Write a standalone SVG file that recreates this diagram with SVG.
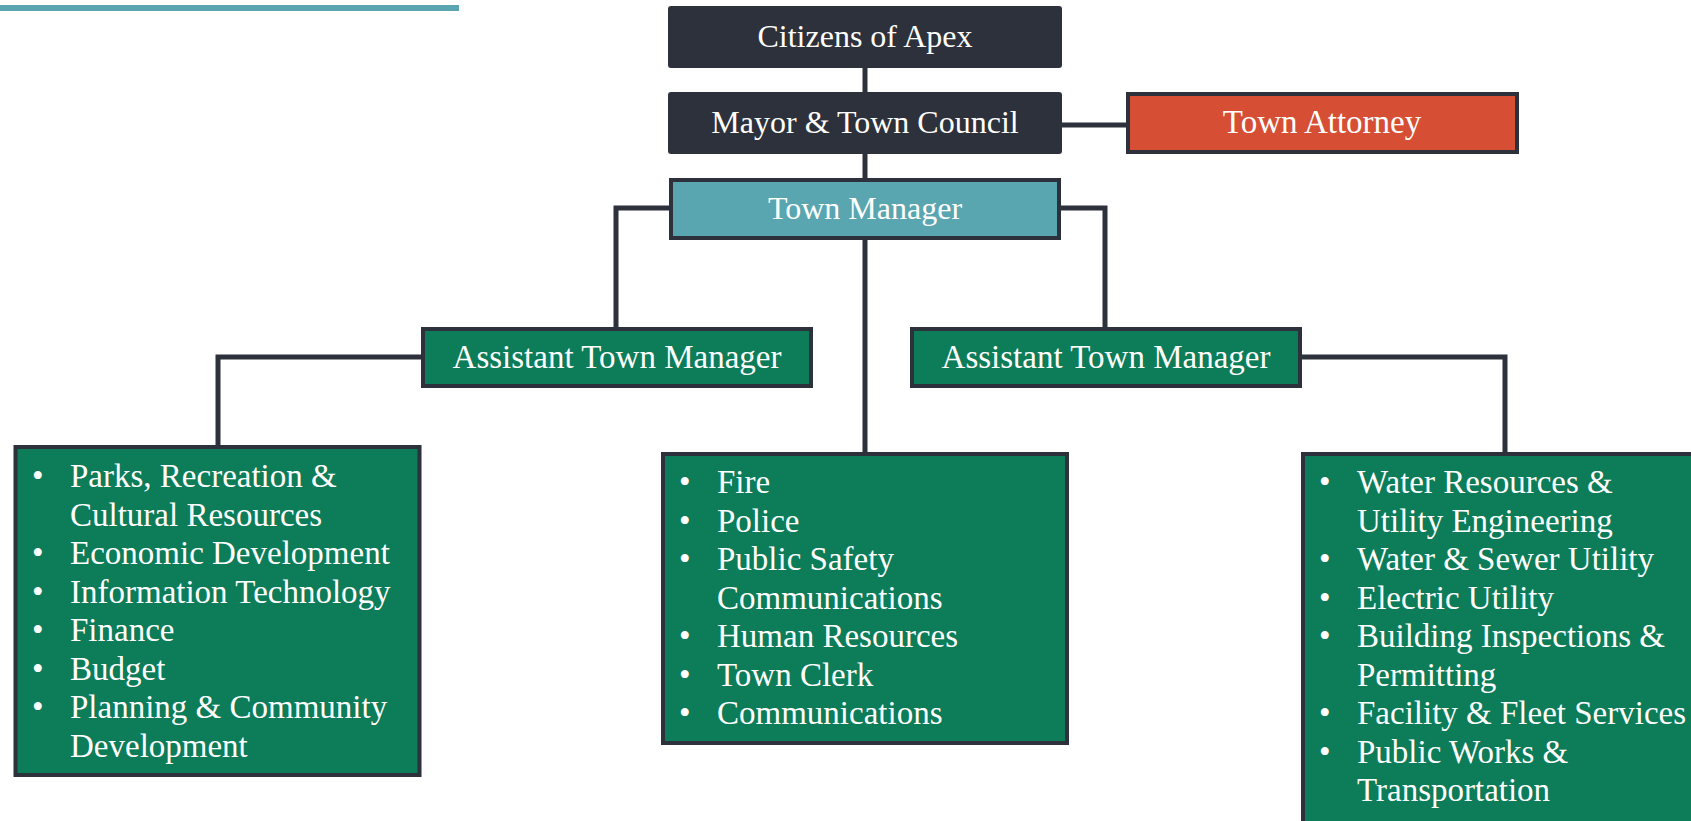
<svg xmlns="http://www.w3.org/2000/svg" width="1691" height="821" viewBox="0 0 1691 821">
<style>
.dark{fill:#2d313b;stroke:#2d313b;stroke-width:4}
.green{fill:#0c7c59;stroke:#2d313b;stroke-width:4}
.teal{fill:#5aa6b0;stroke:#2d313b;stroke-width:4}
.red{fill:#d64e33;stroke:#2d313b;stroke-width:4}
text{font-family:"Liberation Serif","Times New Roman",serif;font-size:32px;fill:#ffffff}
.c{text-anchor:middle}
.l text{font-size:33px}
.conn{fill:none;stroke:#2d313b;stroke-width:5}
</style>
<rect x="0" y="5" width="459" height="6" fill="#5aa6b0"/>
<g id="connectors">
<path class="conn" d="M865 68V92"/>
<path class="conn" d="M865 154V178"/>
<path class="conn" d="M1062 125H1126"/>
<path class="conn" d="M865 240V452"/>
<path class="conn" d="M669 208H616V327"/>
<path class="conn" d="M1061 208H1105V327"/>
<path class="conn" d="M421 357H218V445"/>
<path class="conn" d="M1302 357H1505V452"/>
</g>
<g id="citizens">
<rect class="dark" x="670" y="8" width="390" height="58" rx="1"/>
<text class="c" x="865" y="47">Citizens of Apex</text>
</g>
<g id="mayor">
<rect class="dark" x="670" y="94" width="390" height="58" rx="1"/>
<text class="c" x="865" y="133">Mayor &amp; Town Council</text>
</g>
<g id="attorney">
<rect class="red" x="1128" y="94" width="389" height="58"/>
<text class="c" x="1322" y="133" style="font-size:33px">Town Attorney</text>
</g>
<g id="town-manager">
<rect class="teal" x="671" y="180" width="388" height="58"/>
<text class="c" x="865" y="219">Town Manager</text>
</g>
<g id="atm-left">
<rect class="green" x="423" y="329" width="388" height="57"/>
<text class="c" x="617" y="368" style="font-size:33px">Assistant Town Manager</text>
</g>
<g id="atm-right">
<rect class="green" x="912" y="329" width="388" height="57"/>
<text class="c" x="1106" y="368" style="font-size:33px">Assistant Town Manager</text>
</g>
<g id="list-left" class="l">
<rect class="green" x="15.5" y="447" width="404" height="328"/>
<text x="32" y="487">•</text><text x="70" y="487">Parks, Recreation &amp;</text>
<text x="70" y="525.5">Cultural Resources</text>
<text x="32" y="564">•</text><text x="70" y="564">Economic Development</text>
<text x="32" y="602.5">•</text><text x="70" y="602.5">Information Technology</text>
<text x="32" y="641">•</text><text x="70" y="641">Finance</text>
<text x="32" y="679.5">•</text><text x="70" y="679.5">Budget</text>
<text x="32" y="718">•</text><text x="70" y="718">Planning &amp; Community</text>
<text x="70" y="756.5">Development</text>
</g>
<g id="list-middle" class="l">
<rect class="green" x="663" y="454" width="404" height="289"/>
<text x="679" y="493">•</text><text x="717" y="493">Fire</text>
<text x="679" y="531.5">•</text><text x="717" y="531.5">Police</text>
<text x="679" y="570">•</text><text x="717" y="570">Public Safety</text>
<text x="717" y="608.5">Communications</text>
<text x="679" y="647">•</text><text x="717" y="647">Human Resources</text>
<text x="679" y="685.5">•</text><text x="717" y="685.5">Town Clerk</text>
<text x="679" y="724">•</text><text x="717" y="724">Communications</text>
</g>
<g id="list-right" class="l">
<rect class="green" x="1303" y="454" width="400" height="380"/>
<text x="1319" y="493">•</text><text x="1357" y="493">Water Resources &amp;</text>
<text x="1357" y="531.5">Utility Engineering</text>
<text x="1319" y="570">•</text><text x="1357" y="570">Water &amp; Sewer Utility</text>
<text x="1319" y="608.5">•</text><text x="1357" y="608.5">Electric Utility</text>
<text x="1319" y="647">•</text><text x="1357" y="647">Building Inspections &amp;</text>
<text x="1357" y="685.5">Permitting</text>
<text x="1319" y="724">•</text><text x="1357" y="724">Facility &amp; Fleet Services</text>
<text x="1319" y="762.5">•</text><text x="1357" y="762.5">Public Works &amp;</text>
<text x="1357" y="801">Transportation</text>
</g>
</svg>
